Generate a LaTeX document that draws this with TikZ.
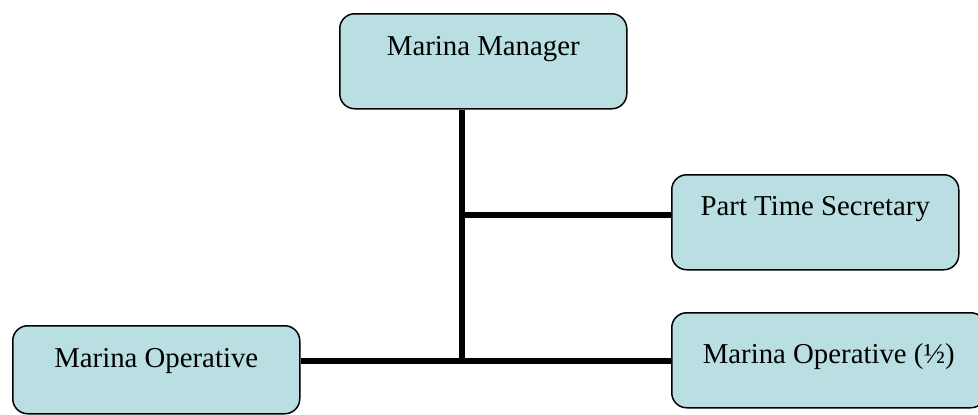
\documentclass[tikz,border=0pt]{standalone}
\usepackage{fontspec}
\setmainfont{Liberation Serif}
\definecolor{postfill}{RGB}{186,223,227}

\begin{document}
\begin{tikzpicture}[x=0.5pt,y=-0.5pt,
post/.style={draw, line width=.75pt, fill=postfill, rounded corners=7.5pt,
  inner sep=0pt, minimum width=143.5pt, anchor=north west,
  font=\fontsize{14.4}{17}\selectfont},
link/.style={line width=3pt}]
\useasboundingbox (0,0) rectangle (978,414);

\node [post, text height=21pt, text depth=26.5pt] (mgr) at (339,13) {Marina Manager};
\node [post, text height=20.5pt, text depth=27pt] (sec) at (671,174) {Part Time Secretary};
\node [post, text height=21pt, text depth=23pt] (ops) at (12,325) {Marina Operative};
\node [post, minimum width=157pt, text height=25.5pt, text depth=22pt] (half) at (671,312) {Marina Operative (½)};

\coordinate (j1) at (462,215);
\coordinate (j2) at (462,361);

 \draw [link] (mgr.south -| j1) -- (j2);
 \draw [link] (j1) -- (sec.west |- j1);
 \draw [link] (ops.east |- j2) -- (half.west |- j2);

\end{tikzpicture}
\end{document}
